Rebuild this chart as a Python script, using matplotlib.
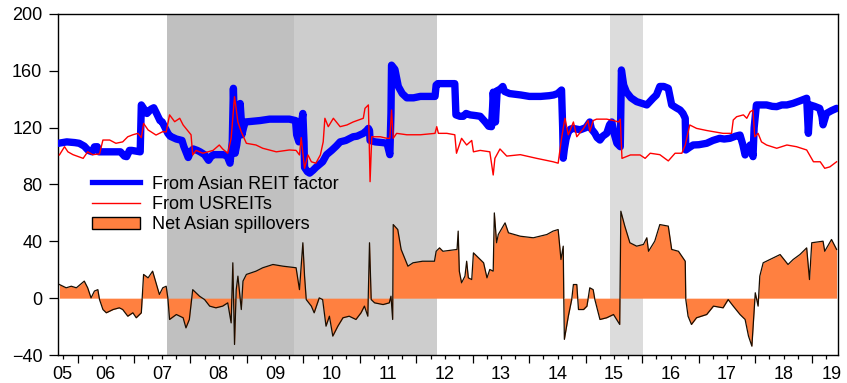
import matplotlib
matplotlib.use("Agg")
import matplotlib.pyplot as plt
from matplotlib.lines import Line2D
from matplotlib.patches import Patch
from matplotlib.ticker import FixedLocator, NullFormatter
from matplotlib.transforms import blended_transform_factory

plt.rcParams['font.family'] = ['Liberation Sans', 'DejaVu Sans']

# ---- From Asian REIT factor (decimal year, spillover index) ----
asian_t = [2005.66, 2005.81, 2005.95, 2006.03, 2006.12, 2006.19, 2006.26, 2006.30, 2006.35, 2006.38,
           2006.58, 2006.76, 2006.83, 2006.87, 2006.92, 2006.96, 2007.11, 2007.13, 2007.18, 2007.23,
           2007.30, 2007.35, 2007.40, 2007.46, 2007.50, 2007.55, 2007.60, 2007.64, 2007.75, 2007.85,
           2007.88, 2007.91, 2007.96, 2008.00, 2008.05, 2008.12, 2008.17, 2008.25, 2008.32, 2008.37,
           2008.41, 2008.50, 2008.58, 2008.65, 2008.70, 2008.74, 2008.76, 2008.78, 2008.79, 2008.82,
           2008.85, 2008.88, 2008.90, 2008.91, 2008.94, 2008.97, 2009.10, 2009.23, 2009.40, 2009.59,
           2009.75, 2009.86, 2009.88, 2009.92, 2009.96, 2009.99, 2010.01, 2010.02, 2010.07, 2010.11,
           2010.17, 2010.22, 2010.28, 2010.34, 2010.41, 2010.50, 2010.58, 2010.65, 2010.75, 2010.88,
           2010.95, 2011.06, 2011.12, 2011.15, 2011.17, 2011.18, 2011.27, 2011.40, 2011.48, 2011.53,
           2011.55, 2011.56, 2011.60, 2011.62, 2011.65, 2011.68, 2011.75, 2011.83, 2011.95, 2012.07,
           2012.20, 2012.33, 2012.35, 2012.38, 2012.50, 2012.68, 2012.70, 2012.77, 2012.83, 2012.88,
           2012.95, 2013.05, 2013.13, 2013.22, 2013.28, 2013.33, 2013.35, 2013.36, 2013.40, 2013.43,
           2013.48, 2013.53, 2013.56, 2013.65, 2013.75, 2013.85, 2014.00, 2014.20, 2014.35, 2014.43,
           2014.50, 2014.57, 2014.59, 2014.60, 2014.62, 2014.65, 2014.69, 2014.73, 2014.77, 2014.90,
           2015.00, 2015.07, 2015.10, 2015.16, 2015.20, 2015.25, 2015.30, 2015.37, 2015.42, 2015.46,
           2015.50, 2015.55, 2015.61, 2015.63, 2015.67, 2015.72, 2015.80, 2015.90, 2016.00, 2016.08,
           2016.15, 2016.19, 2016.25, 2016.31, 2016.38, 2016.46, 2016.52, 2016.60, 2016.67, 2016.72,
           2016.76, 2016.77, 2016.83, 2016.90, 2017.00, 2017.14, 2017.25, 2017.37, 2017.45, 2017.55,
           2017.65, 2017.73, 2017.78, 2017.82, 2017.86, 2017.91, 2017.94, 2017.96, 2017.98, 2018.02,
           2018.10, 2018.20, 2018.30, 2018.38, 2018.47, 2018.56, 2018.67, 2018.80, 2018.91, 2018.93,
           2018.94, 2018.96, 2018.97, 2019.05, 2019.14, 2019.18, 2019.20, 2019.23, 2019.26, 2019.35,
           2019.44]
asian_v = [109, 110, 109.5, 109, 107, 104, 103, 106.5, 106.6, 103,
           103, 103, 100, 99.6, 104, 104, 103, 136, 133, 130,
           133, 134, 130, 125, 124, 120, 116, 114, 112, 111,
           107, 104, 99, 103, 105, 104, 103, 101, 97, 100,
           101, 101, 101, 100, 95, 110, 147.7, 120, 102, 108,
           118, 137, 125, 115, 120, 124, 124.5, 125, 126, 126,
           126, 125, 115, 110, 122, 130, 110, 92, 89, 88,
           90, 92, 94, 96, 101, 104, 107, 110, 111, 113.6,
           114, 116, 118, 119.5, 118, 111, 110, 109.5, 109, 101,
           130, 164, 162, 161, 155, 149, 144, 141, 141, 142,
           142, 142, 150, 151, 151, 151, 129, 128, 128, 130,
           129, 128.5, 128, 124, 121, 120.7, 135, 145, 124, 146,
           147, 149, 145.5, 144, 143.5, 143, 142, 142, 142.5, 143,
           144, 146.5, 120, 98.5, 105, 112, 117, 119, 119.5, 118.5,
           120, 124, 119, 116, 113, 111.3, 114, 116, 122, 124,
           116, 109, 106.6, 160.6, 150, 145, 141, 138.3, 137, 136,
           139, 140.7, 143, 149, 149, 147.7, 136, 134, 132.4, 130,
           126.6, 104.3, 106, 107.8, 108, 109, 111, 112.5, 112, 112.5,
           114, 114.8, 108, 100.8, 104, 107.8, 104, 99.6, 120, 136,
           136, 136, 135, 134.8, 136, 136, 137.1, 139, 140.7, 125,
           116, 130, 136, 135, 133.6, 128, 122, 126, 130, 132,
           133.6]

# ---- From USREITs ----
us_t = [2005.68, 2005.77, 2005.83, 2005.92, 2006.10, 2006.18, 2006.27, 2006.39, 2006.45, 2006.57,
        2006.68, 2006.80, 2006.89, 2006.98, 2007.07, 2007.13, 2007.17, 2007.25, 2007.39, 2007.51,
        2007.57, 2007.63, 2007.72, 2007.81, 2007.87, 2007.95, 2008.01, 2008.04, 2008.10, 2008.22,
        2008.40, 2008.51, 2008.57, 2008.66, 2008.72, 2008.78, 2008.84, 2008.90, 2008.99, 2009.16,
        2009.28, 2009.52, 2009.75, 2009.87, 2009.93, 2009.96, 2010.02, 2010.08, 2010.14, 2010.22,
        2010.30, 2010.35, 2010.38, 2010.44, 2010.53, 2010.65, 2010.77, 2010.88, 2011.06, 2011.09,
        2011.15, 2011.18, 2011.21, 2011.36, 2011.48, 2011.53, 2011.56, 2011.59, 2011.65, 2011.83,
        2012.07, 2012.33, 2012.36, 2012.39, 2012.54, 2012.68, 2012.71, 2012.80, 2012.89, 2012.98,
        2013.01, 2013.13, 2013.30, 2013.36, 2013.39, 2013.48, 2013.60, 2013.84, 2014.13, 2014.42,
        2014.51, 2014.57, 2014.63, 2014.69, 2014.78, 2014.84, 2014.96, 2015.04, 2015.07, 2015.13,
        2015.19, 2015.37, 2015.49, 2015.58, 2015.61, 2015.64, 2015.79, 2015.96, 2016.05, 2016.14,
        2016.31, 2016.46, 2016.58, 2016.70, 2016.76, 2016.84, 2016.96, 2017.14, 2017.26, 2017.43,
        2017.58, 2017.61, 2017.67, 2017.79, 2017.85, 2017.91, 2017.96, 2017.99, 2018.05, 2018.11,
        2018.20, 2018.38, 2018.56, 2018.73, 2018.91, 2019.03, 2019.15, 2019.23, 2019.32, 2019.44]
us_v = [100.8, 106.6, 103, 101, 98.4, 103, 101, 101.5, 111.3, 111.3,
        109, 110, 113.6, 115, 116, 113, 123, 118.4, 114.8, 117.2,
        117, 129, 124.2, 126.6, 121.9, 118, 115, 100.8, 104, 102,
        104, 107.8, 105, 102, 112.5, 141.8, 124, 117, 109, 107.8,
        105.5, 103, 104.3, 104, 100.8, 113, 91.4, 100.8, 96, 95,
        100.8, 110, 126.6, 120.7, 126.6, 120.7, 121.9, 124, 126.6, 133.6,
        136, 82, 113.6, 113.6, 112.5, 112.5, 132.4, 112.5, 116, 115,
        115, 116, 120.7, 116, 116, 115, 102, 112.5, 107.8, 111,
        103, 104, 103, 86.7, 98.4, 105, 100, 101, 98.4, 96,
        95, 112.5, 126.6, 115, 124, 113.6, 119.5, 125, 117.2, 125,
        126, 126, 125, 124, 126, 98.4, 100.8, 100.8, 98.4, 102,
        101, 96.6, 102, 102, 107.8, 121.9, 119.5, 118, 117.2, 116,
        116, 125.4, 127.7, 129, 126.6, 131.2, 132.4, 113.6, 116, 110,
        107.8, 105.5, 107.8, 106.6, 104.3, 96, 96, 91.4, 92.4, 96]

# ---- Net Asian spillovers ----
net_t = [2005.68, 2005.80, 2005.89, 2005.98, 2006.12, 2006.18, 2006.24, 2006.30, 2006.36, 2006.39,
         2006.45, 2006.51, 2006.63, 2006.74, 2006.80, 2006.89, 2006.98, 2007.04, 2007.13, 2007.17,
         2007.25, 2007.33, 2007.39, 2007.45, 2007.51, 2007.57, 2007.60, 2007.63, 2007.75, 2007.87,
         2007.92, 2007.98, 2008.04, 2008.16, 2008.25, 2008.34, 2008.45, 2008.57, 2008.66, 2008.72,
         2008.75, 2008.78, 2008.81, 2008.84, 2008.90, 2008.93, 2008.99, 2009.16, 2009.28, 2009.46,
         2009.64, 2009.87, 2009.93, 2009.99, 2010.02, 2010.05, 2010.14, 2010.19, 2010.28, 2010.34,
         2010.40, 2010.46, 2010.52, 2010.61, 2010.70, 2010.81, 2010.93, 2011.02, 2011.08, 2011.14,
         2011.17, 2011.20, 2011.26, 2011.41, 2011.52, 2011.55, 2011.58, 2011.59, 2011.67, 2011.73,
         2011.79, 2011.85, 2011.94, 2012.11, 2012.32, 2012.35, 2012.41, 2012.47, 2012.72, 2012.74,
         2012.76, 2012.80, 2012.86, 2012.89, 2012.92, 2012.98, 2013.01, 2013.10, 2013.19, 2013.25,
         2013.30, 2013.36, 2013.38, 2013.42, 2013.45, 2013.57, 2013.63, 2013.84, 2014.07, 2014.31,
         2014.42, 2014.51, 2014.56, 2014.60, 2014.61, 2014.62, 2014.69, 2014.75, 2014.78, 2014.84,
         2014.87, 2014.96, 2015.02, 2015.07, 2015.13, 2015.16, 2015.25, 2015.37, 2015.49, 2015.60,
         2015.62, 2015.69, 2015.78, 2015.90, 2016.02, 2016.08, 2016.11, 2016.22, 2016.31, 2016.46,
         2016.52, 2016.64, 2016.76, 2016.77, 2016.81, 2016.87, 2016.96, 2017.14, 2017.26, 2017.43,
         2017.52, 2017.61, 2017.73, 2017.82, 2017.88, 2017.94, 2018.00, 2018.05, 2018.08, 2018.14,
         2018.26, 2018.44, 2018.58, 2018.67, 2018.79, 2018.91, 2018.96, 2019.00, 2019.20, 2019.23,
         2019.35, 2019.44]
net_v = [9.6, 7.3, 8.4, 7.3, 12, 7.3, 0.2, 5, 6, -1,
         -8, -10.3, -8, -6.8, -8, -12.7, -10.3, -13.8, -10.3, 16.7,
         14.3, 19, 10.8, 2.6, 7.3, 8.4, 0, -15, -11.5, -13.8,
         -20.9, -15, 6, 1.4, -1, -5.6, -6.8, -5.6, -3.3, -17.4,
         24.9, -32.6, 6, 15.5, -8, 12, 16.7, 19, 21.4, 23.7,
         22.5, 21.4, 6, 39, 15.5, -1, -5.6, -10.3, 0.2, -1,
         -19.7, -12.7, -26.7, -19.7, -13.8, -12.7, -15, -10.3, -5.6, -12.7,
         39, -1, -3.3, -4.5, -3.3, 1.4, -15, 51.8, 48.3, 34.3,
         28.4, 22.5, 24.9, 26, 26, 33, 35.4, 33, 34.3, 47.2,
         19, 10.8, 15.5, 26, 14.3, 13.1, 31.9, 28.4, 24.9, 14.3,
         20.2, 19, 60, 39, 44.8, 53, 46, 43.6, 42.5, 44.8,
         47.2, 48.3, 27.2, 36.6, -1, -29, -12.7, -1, 9.6, 9.6,
         -8, -8, -5.6, 7.3, 6, -1, -15, -13.8, -11.5, -18.5,
         61.2, 50.7, 39, 36.6, 37.8, 42.5, 33, 40.1, 51.8, 50.7,
         34.3, 33, 26, -1, -12.7, -18.5, -13.8, -11.5, -5.6, -6.8,
         -1, -5.6, -11.5, -15, -26.7, -33.8, 3.8, -5.6, 15.5, 24.9,
         27.2, 30.7, 23.7, 27.2, 30.7, 35.4, 13.1, 39, 40.1, 33,
         41.3, 34.3]

# ---- Crisis episodes shaded in the background ----
shade_start = [2007.58, 2009.84, 2015.43]
shade_end = [2009.84, 2012.36, 2016.02]
shade_color = ['#c0c0c0', '#cdcdcd', '#dcdcdc']

year_labels = ['05', '06', '07', '08', '09', '10', '11', '12', '13', '14', '15', '16', '17', '18', '19']
year_label_pos = [2005.73] + [2006.5 + i for i in range(13)] + [2019.36]

fig = plt.figure(figsize=(8.47, 3.83), dpi=100)
ax = fig.add_axes([58.3 / 847, 1 - 355 / 383, 780 / 847, 341 / 383])

for s, e, c in zip(shade_start, shade_end, shade_color):
    ax.axvspan(s, e, color=c, lw=0, zorder=0)

ax.fill_between(net_t, 0, net_v, color='#ff8040', lw=0, zorder=1)
ax.plot(net_t, net_v, color='#1a0d00', lw=0.9, zorder=2)
ax.plot(asian_t, asian_v, color='#0000ff', lw=5.3, solid_joinstyle='round',
        solid_capstyle='round', zorder=3)
ax.plot(us_t, us_v, color='#ff0000', lw=1.0, zorder=4)

ax.set_xlim(2005.66, 2019.47)
ax.set_ylim(-40, 200)
ax.set_yticks([-40, 0, 40, 80, 120, 160, 200])
ax.tick_params(axis='y', direction='out', length=6.5, width=0.9, pad=5, labelsize=13)

years = list(range(2006, 2020))
quarters = [y + q / 4 for y in range(2005, 2020) for q in (1, 2, 3)
            if 2005.66 <= y + q / 4 <= 2019.47]
ax.xaxis.set_major_locator(FixedLocator(years))
ax.xaxis.set_minor_locator(FixedLocator(quarters))
ax.xaxis.set_major_formatter(NullFormatter())
ax.tick_params(axis='x', which='major', direction='out', length=5.5, width=0.9)
ax.tick_params(axis='x', which='minor', direction='out', length=3, width=0.9)

trans = blended_transform_factory(ax.transData, ax.transAxes)
for lab, pos in zip(year_labels, year_label_pos):
    ax.text(pos, -0.058, lab, transform=trans, ha='center', va='center', fontsize=13)

for sp in ax.spines.values():
    sp.set_linewidth(1.0)
    sp.set_color('black')

handles = [Line2D([], [], color='#0000ff', lw=3.8),
           Line2D([], [], color='#ff0000', lw=1.0),
           Patch(facecolor='#ff8040', edgecolor='black', lw=1.0)]
labels = ['From Asian REIT factor', 'From USREITs', 'Net Asian spillovers']
ax.legend(handles, labels, loc='center left', bbox_to_anchor=(0.0428, 0.442),
          frameon=False, fontsize=13, borderpad=0, borderaxespad=0,
          handlelength=2.67, handleheight=0.65, handletextpad=0.68, labelspacing=0.18)

fig.savefig('out.png', dpi=100)
